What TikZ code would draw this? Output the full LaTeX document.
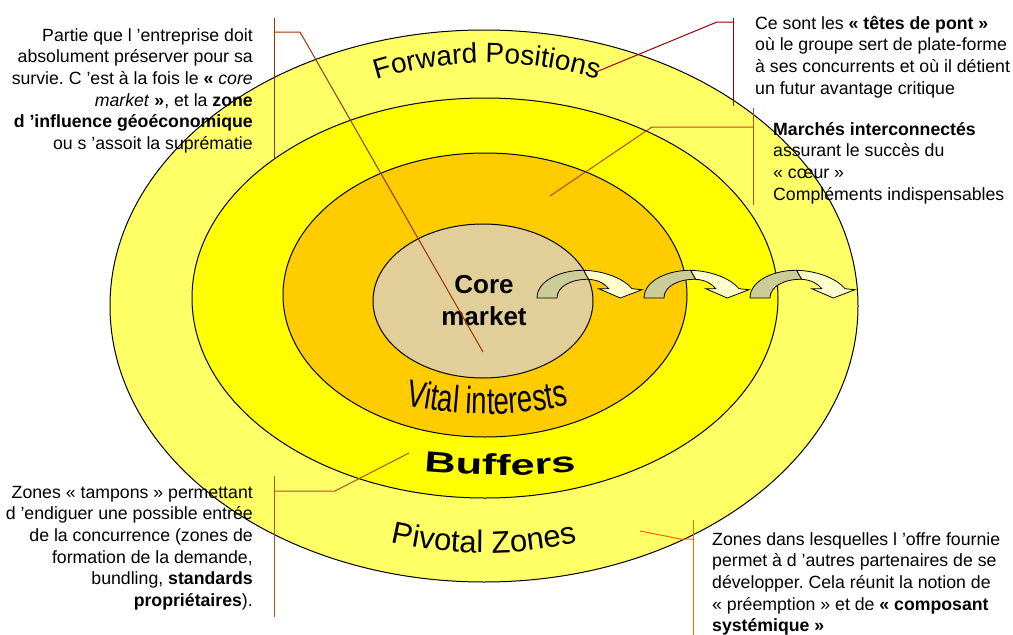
\documentclass[tikz,border=0pt]{standalone}
\usepackage{fontspec}
\setmainfont{Liberation Sans}
\newfontfamily\narrowfont[FakeStretch=0.72]{Liberation Sans}
\newfontfamily\widefont[FakeStretch=1.5]{Liberation Sans}
\usetikzlibrary{decorations.text}
\definecolor{outerY}{HTML}{FFFF66}
\definecolor{bufY}{HTML}{FFFF00}
\definecolor{vitalO}{HTML}{FFCC00}
\definecolor{coreT}{HTML}{E2CE98}
\definecolor{arrG}{HTML}{CCCC99}
\definecolor{arrY}{HTML}{FFFFCC}
\definecolor{lnTL}{HTML}{993300}
\definecolor{lnTR}{HTML}{990000}
\definecolor{lnRM}{HTML}{B84A10}
\definecolor{lnBL}{HTML}{B5501A}
\definecolor{lnBR}{HTML}{FF6600}
\frenchspacing
\begin{document}
\begin{tikzpicture}[x=1pt,y=1pt,
  ring/.style={draw=black,line width=1pt},
  leader/.style={line width=1pt},
  note/.style={inner sep=0pt,font=\fontsize{17.7}{21.6}\selectfont},
  arrback/.style={draw=black,line width=0.8pt,fill=arrG},
  arrfront/.style={draw=black,line width=0.8pt,fill=arrY}]
\path[use as bounding box] (0,0) rectangle (1013,-635);
% rings
\draw[ring,fill=outerY] (484,-306) ellipse [x radius=374,y radius=276];
\draw[ring,fill=bufY] (485,-298) ellipse [x radius=293,y radius=200];
\draw[ring,fill=vitalO] (485,-295) ellipse [x radius=202,y radius=142];
\draw[ring,fill=coreT] (483,-301) ellipse [x radius=110,y radius=77];
% ring labels
\path[decorate,decoration={text along path,text align=center,
  text={|\fontsize{28}{30}\selectfont|Forward Positions}}]
  (487,-440) ++(115:377) arc[start angle=115,end angle=65,radius=377];
\path[decorate,decoration={text along path,text align=center,
  text={|\narrowfont\fontsize{38}{40}\selectfont|Vital interests}}]
  (487,-36) ++(245:378) arc[start angle=245,end angle=295,radius=378];
\path[decorate,decoration={text along path,text align=center,
  text={|\widefont\bfseries\fontsize{29}{32}\selectfont|Buffers}}]
  (500,325) ++(255:800) arc[start angle=255,end angle=285,radius=800];
\path[decorate,decoration={text along path,text align=center,
  text={|\fontsize{31}{34}\selectfont|Pivotal Zones}}]
  (484,-146) ++(240:407) arc[start angle=240,end angle=300,radius=407];
\node[font=\bfseries\fontsize{26}{32}\selectfont,align=center,inner sep=0pt,anchor=north]
  (core) at (484,-270.6) {\strut Core\\market};
% arrows
\foreach \ax in {537,644,750}{
  \begin{scope}[shift={(\ax,-298)}]
    \draw[arrback] (0,0) .. controls (0,18) and (25,28) .. (46.7,27.7)
      -- (51.7,18.7) .. controls (35,19) and (20,12) .. (20,0) -- cycle;
    \draw[arrfront] (46.7,27.7) .. controls (70,27) and (88,18) .. (95,9.3)
      -- (105,8.3) -- (83.3,0) -- (61.7,9.3) -- (71.7,9.3)
      .. controls (68,14) and (62,18) .. (51.7,18.7) -- cycle;
  \end{scope}}
% leader coordinates
\coordinate (tlA) at (274,-18);  \coordinate (tlB) at (274,-158);
\coordinate (tlC) at (274,-32);  \coordinate (tlD) at (300,-32);
\coordinate (tlE) at (483,-352);
\coordinate (trA) at (733,-18);  \coordinate (trB) at (733,-106);
\coordinate (trC) at (733,-22);  \coordinate (trD) at (717,-22);
\coordinate (trE) at (596,-72);
\coordinate (rmA) at (753,-108); \coordinate (rmB) at (753,-205);
\coordinate (rmC) at (753,-127); \coordinate (rmD) at (652,-127);
\coordinate (rmE) at (550,-196);
\coordinate (blA) at (274,-476); \coordinate (blB) at (274,-617);
\coordinate (blC) at (274,-491); \coordinate (blD) at (335,-491);
\coordinate (blE) at (409,-453);
\coordinate (brA) at (693,-520); \coordinate (brB) at (693,-635);
\coordinate (brC) at (693,-539); \coordinate (brD) at (680,-539);
\coordinate (brE) at (640,-531);
\draw[leader,draw=lnTL] (tlA) -- (tlB);
\draw[leader,draw=lnTL] (tlC) -- (tlD) -- (tlE);
\draw[leader,draw=lnTR] (trA) -- (trB);
\draw[leader,draw=lnTR] (trC) -- (trD) -- (trE);
\draw[leader,draw=lnRM] (rmA) -- (rmB);
\draw[leader,draw=lnRM] (rmC) -- (rmD) -- (rmE);
\draw[leader,draw=lnBL] (blA) -- (blB);
\draw[leader,draw=lnBL] (blC) -- (blD) -- (blE);
\draw[leader,draw=lnBR] (brA) -- (brB);
\draw[leader,draw=lnBR] (brC) -- (brD) -- (brE);
% notes
\node[note,align=right,anchor=north east] (tl) at (253,-25.9)
 {\strut Partie que l ’entreprise doit\\
  absolument préserver pour sa\\
  survie. C ’est à la fois le \textbf{«} \textit{core}\\
  \textit{market} \textbf{»}, et la \textbf{zone}\\
  \textbf{d ’influence géoéconomique}\\
  ou s ’assoit la suprématie};
\node[note,align=left,anchor=north west] (tr) at (755,-13.9)
 {\strut Ce sont les \textbf{« têtes de pont »}\\
  où le groupe sert de plate-forme\\
  à ses concurrents et où il détient\\
  un futur avantage critique};
\node[note,align=left,anchor=north west] (rm) at (773,-119.9)
 {\strut\textbf{Marchés interconnectés}\\
  assurant le succès du\\
  « cœur »\\
  Compléments indispensables};
\node[note,align=right,anchor=north east] (bl) at (253,-482.9)
 {\strut Zones « tampons » permettant\\
  d ’endiguer une possible entrée\\
  de la concurrence (zones de\\
  formation de la demande,\\
  bundling, \textbf{standards}\\
  \textbf{propriétaires}).};
\node[note,align=left,anchor=north west] (br) at (712,-529.9)
 {\strut Zones dans lesquelles l ’offre fournie\\
  permet à d ’autres partenaires de se\\
  développer. Cela réunit la notion de\\
  « préemption » et de \textbf{« composant}\\
  \textbf{systémique »}};
\end{tikzpicture}
\end{document}
